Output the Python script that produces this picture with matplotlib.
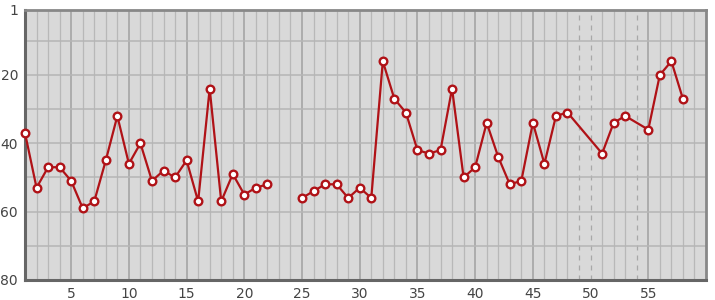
import matplotlib.pyplot as plt
import numpy as np

# ranking per round (lower is better), gaps where there is no value
rounds_a = [1, 2, 3, 4, 5, 6, 7, 8, 9, 10, 11, 12, 13, 14, 15, 16, 17, 18, 19, 20, 21, 22]
ranks_a = [37, 53, 47, 47, 51, 59, 57, 45, 32, 46, 40, 51, 48, 50, 45, 57, 24, 57, 49, 55, 53, 52]

rounds_b = [25, 26, 27, 28, 29, 30, 31, 32, 33, 34, 35, 36, 37, 38, 39, 40, 41, 42, 43, 44,
            45, 46, 47, 48, 51, 52, 53, 55, 56, 57, 58]
ranks_b = [56, 54, 52, 52, 56, 53, 56, 16, 27, 31, 42, 43, 42, 24, 50, 47, 34, 44, 52, 51,
           34, 46, 32, 31, 43, 34, 32, 36, 20, 16, 27]

dashed_rounds = [49, 50, 54]
x_ticks = [5, 10, 15, 20, 25, 30, 35, 40, 45, 50, 55]
y_ticks = [1, 20, 40, 60, 80]

line_color = "#b01217"

fig = plt.figure(figsize=(7.15, 3.0), dpi=100)
ax = fig.add_axes([25 / 715, 20 / 300, 681 / 715, 270 / 300])
ax.set_facecolor("#d9d9d9")

ax.set_xlim(1, 60)
ax.set_ylim(80, 1)

# grid: minor every round / 10 ranks, major every 5 rounds
for x in range(2, 60):
    if x in dashed_rounds:
        ax.axvline(x, color="#a8a8a8", lw=0.9, ls=(0, (4, 4)), zorder=1)
    elif x % 5 == 0:
        ax.axvline(x, color="#a0a0a0", lw=1.1, zorder=1)
    else:
        ax.axvline(x, color="#b8b8b8", lw=0.9, zorder=1)
for y in range(10, 80, 10):
    ax.axhline(y, color="#b5b5b5", lw=1.1, zorder=1)

for xs, ys in [(rounds_a, ranks_a), (rounds_b, ranks_b)]:
    ax.plot(xs, ys, color=line_color, lw=1.6, marker="o", ms=5.5,
            mfc="white", mec=line_color, mew=1.7, zorder=3, clip_on=False)

ax.set_xticks(x_ticks)
ax.set_yticks(y_ticks)
ax.tick_params(length=0, labelsize=10, colors="#444444")
ax.tick_params(axis="x", pad=5)
ax.tick_params(axis="y", pad=5)

for side in ["left", "bottom"]:
    ax.spines[side].set_color("#666666")
    ax.spines[side].set_linewidth(2.2)
for side in ["top", "right"]:
    ax.spines[side].set_color("#888888")
    ax.spines[side].set_linewidth(2)

fig.savefig("out.png", dpi=100)
